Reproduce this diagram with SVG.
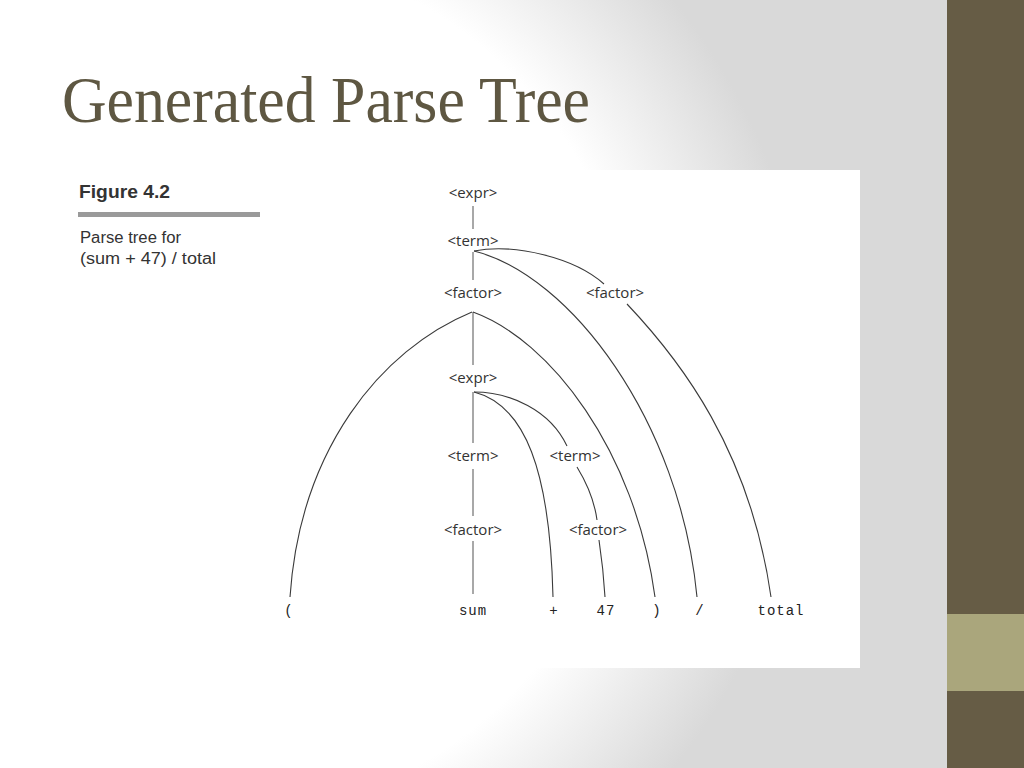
<svg xmlns="http://www.w3.org/2000/svg" width="1024" height="768" viewBox="0 0 1024 768">
  <defs>
    <radialGradient id="bg" gradientUnits="userSpaceOnUse" cx="200" cy="384" r="610">
      <stop offset="0.72" stop-color="#ffffff"/>
      <stop offset="1" stop-color="#d9d9d9"/>
    </radialGradient>
    <style>
      .nt { font-family: "Open Sans", "Liberation Sans", sans-serif; font-size: 15px; fill: #333333; text-anchor: middle; }
      .tm { font-family: "Liberation Mono", "DejaVu Sans Mono", monospace; font-size: 14px; fill: #222222; text-anchor: middle; letter-spacing: 1px; }
      .vl { stroke: #a8a8a8; stroke-width: 2; fill: none; }
      .cv { stroke: #3a3a3a; stroke-width: 1.1; fill: none; }
      .cap { font-family: "Liberation Sans", "Open Sans", sans-serif; fill: #333333; }
    </style>
  </defs>

  <!-- slide background -->
  <rect x="0" y="0" width="1024" height="768" fill="url(#bg)"/>
  <rect x="947" y="0" width="77" height="768" fill="#665c45"/>
  <rect x="947" y="614" width="77" height="77" fill="#aaa67c"/>

  <!-- title -->
  <text x="62" y="122" font-family="Liberation Serif, DejaVu Serif, serif" font-size="66" fill="#5e5742" textLength="528" lengthAdjust="spacingAndGlyphs">Generated Parse Tree</text>

  <!-- figure panel -->
  <rect x="60" y="170" width="800" height="498" fill="#ffffff"/>

  <!-- caption -->
  <g id="caption">
    <text class="cap" x="79" y="198" font-size="18" font-weight="bold" fill="#222222" textLength="91" lengthAdjust="spacingAndGlyphs">Figure 4.2</text>
    <rect x="78" y="212" width="182" height="5" fill="#9a9a9a"/>
    <text class="cap" x="80" y="243" font-size="16" textLength="101" lengthAdjust="spacingAndGlyphs">Parse tree for</text>
    <text class="cap" x="80" y="264" font-size="16" textLength="136" lengthAdjust="spacingAndGlyphs">(sum + 47) / total</text>
  </g>

  <!-- connectors -->
  <g id="connectors">
    <line class="vl" x1="473" y1="206" x2="473" y2="229"/>
    <line class="vl" x1="473" y1="252" x2="473" y2="280"/>
    <line class="vl" x1="473" y1="312" x2="473" y2="365"/>
    <line class="vl" x1="473" y1="392" x2="473" y2="443"/>
    <line class="vl" x1="473" y1="469" x2="473" y2="516"/>
    <line class="vl" x1="473" y1="541" x2="473" y2="594"/>

    <path class="cv" d="M474,251 C515,243 575,258 604,284"/>
    <path class="cv" d="M474,251 C570,275 680,420 697,597"/>
    <path class="cv" d="M627,304 C680,360 750,450 771,597"/>
    <path class="cv" d="M472,312 C380,350 300,450 290,597"/>
    <path class="cv" d="M473,312 C550,340 635,450 655,597"/>
    <path class="cv" d="M474,392 C525,405 550,470 553,597"/>
    <path class="cv" d="M474,392 C510,392 550,410 567,446"/>
    <path class="cv" d="M577,467 C588,485 595,505 597,520"/>
    <path class="cv" d="M599,540 C602,560 604,580 605,597"/>
  </g>

  <!-- nodes -->
  <g id="n-expr1"><text class="nt" x="473" y="198">&lt;expr&gt;</text></g>
  <g id="n-term1"><text class="nt" x="473" y="246">&lt;term&gt;</text></g>
  <g id="n-factor1"><text class="nt" x="473" y="298">&lt;factor&gt;</text></g>
  <g id="n-factor2"><text class="nt" x="615" y="298">&lt;factor&gt;</text></g>
  <g id="n-expr2"><text class="nt" x="473" y="383">&lt;expr&gt;</text></g>
  <g id="n-term2"><text class="nt" x="473" y="461">&lt;term&gt;</text></g>
  <g id="n-term3"><text class="nt" x="575" y="461">&lt;term&gt;</text></g>
  <g id="n-factor3"><text class="nt" x="473" y="535">&lt;factor&gt;</text></g>
  <g id="n-factor4"><text class="nt" x="598" y="535">&lt;factor&gt;</text></g>

  <g id="t-lparen"><text class="tm" x="289" y="615">(</text></g>
  <g id="t-sum"><text class="tm" x="473" y="615">sum</text></g>
  <g id="t-plus"><text class="tm" x="554" y="615">+</text></g>
  <g id="t-47"><text class="tm" x="606" y="615">47</text></g>
  <g id="t-rparen"><text class="tm" x="657" y="615">)</text></g>
  <g id="t-div"><text class="tm" x="700" y="615">/</text></g>
  <g id="t-total"><text class="tm" x="781" y="615">total</text></g>
</svg>
